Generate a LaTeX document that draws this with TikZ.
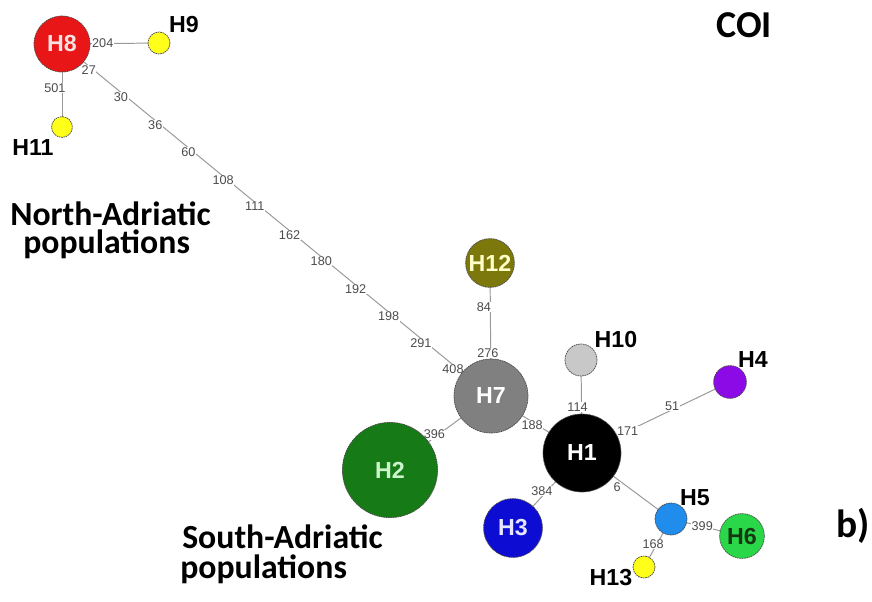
\documentclass[tikz,border=0pt]{standalone}
\usepackage{fontspec}
\setmainfont{Liberation Sans}
\newfontfamily\calib{Carlito}
\usetikzlibrary{backgrounds}

\definecolor{hred}{RGB}{232,22,22}
\definecolor{hyellow}{RGB}{255,255,25}
\definecolor{holive}{RGB}{125,120,12}
\definecolor{hgray}{RGB}{128,128,128}
\definecolor{hlight}{RGB}{200,200,200}
\definecolor{hpurple}{RGB}{140,10,230}
\definecolor{hgreen}{RGB}{22,122,22}
\definecolor{hblue}{RGB}{12,12,210}
\definecolor{hsky}{RGB}{32,140,235}
\definecolor{hlime}{RGB}{42,215,72}

\tikzset{
  hap/.style={circle, draw=black!70, line width=0.5pt, dash pattern=on 1.2pt off 0.5pt,
    inner sep=0pt, font=\fontsize{16.5}{18}\selectfont\bfseries, text=white},
  hname/.style={inner sep=0pt, font=\fontsize{16.5}{18}\selectfont\bfseries},
  link/.style={draw=black!40, line width=0.7pt},
  elab/.style={fill=white, inner sep=0.4pt, font=\fontsize{9}{10}\selectfont, text=black!70},
  elabs/.style={elab, xshift=-1.4pt, yshift=-2pt},
  bigtxt/.style={anchor=base west, inner sep=0pt, font=\calib\bfseries\fontsize{24}{26}\selectfont}
}

\begin{document}
\begin{tikzpicture}[x=0.025cm, y=-0.025cm]
			%%%%% START %%%%%
			\useasboundingbox (0, 0) rectangle (872, 601);
			
			% haplotypes
			\node[hap, fill=hred, minimum size=1.40cm, text={rgb,255:red,245;green,225;blue,225}] (H8) at (62, 44) {H8};
			\node[hap, fill=hyellow, minimum size=0.55cm] (H9) at (159, 43) {};
			\node[hap, fill=hyellow, minimum size=0.52cm] (H11) at (62, 127) {};
			\node[hap, fill=holive, minimum size=1.22cm, text={rgb,255:red,255;green,255;blue,200}] (H12) at (490, 263) {H12};
			\node[hap, fill=hgray, minimum size=1.85cm] (H7) at (491, 396) {H7};
			\node[hap, fill=hlight, minimum size=0.80cm] (H10) at (581, 360) {};
			\node[hap, fill=black, minimum size=1.95cm] (H1) at (582, 453) {H1};
			\node[hap, fill=hpurple, minimum size=0.82cm] (H4) at (730, 382) {};
			\node[hap, fill=hgreen, minimum size=2.38cm, text={rgb,255:red,205;green,245;blue,205}] (H2) at (390, 470) {H2};
			\node[hap, fill=hblue, minimum size=1.47cm, text={rgb,255:red,230;green,230;blue,255}] (H3) at (513, 528) {H3};
			\node[hap, fill=hsky, minimum size=0.80cm] (H5) at (671, 519) {};
			\node[hap, fill=hlime, minimum size=1.12cm, text={rgb,255:red,20;green,55;blue,20}] (H6) at (742, 536) {H6};
			\node[hap, fill=hyellow, minimum size=0.55cm] (H13) at (644, 567) {};
			
			% names beside the small circles
			\node[hname] (lH9) at (184, 25) {H9};
			\node[hname] (lH11) at (33, 148) {H11};
			\node[hname] (lH10) at (616, 340) {H10};
			\node[hname] (lH4) at (753, 360) {H4};
			\node[hname] (lH5) at (695, 498) {H5};
			\node[hname] (lH13) at (611, 578) {H13};
			
			% mutation steps
			\begin{scope}[on background layer]
				\draw[link] (H8.center) -- (H9.center) node[elab, pos=.42] {204};
				\draw[link] (H8.center) -- (H11.center) node[elab, pos=.53, xshift=-5pt] {501};
				\draw[link] (H8.center) -- (H7.center)
					node[elabs, pos=.067] {27}
					node[elabs, pos=.142] {30}
					node[elabs, pos=.222] {36}
					node[elabs, pos=.299] {60}
					node[elabs, pos=.380] {108}
					node[elabs, pos=.454] {111}
					node[elabs, pos=.535] {162}
					node[elabs, pos=.609] {180}
					node[elabs, pos=.689] {192}
					node[elabs, pos=.766] {198}
					node[elabs, pos=.841] {291}
					node[elabs, pos=.916] {408};
				\draw[link] (H12.center) -- (H7.center)
					node[elab, pos=.33, xshift=-4.6pt] {84}
					node[elab, pos=.677, xshift=-2pt] {276};
				\draw[link] (H7.center) -- (H2.center) node[elab, pos=.56, yshift=2pt] {396};
				\draw[link] (H7.center) -- (H1.center) node[elab, pos=.467, xshift=-1pt, yshift=-1.7pt] {188};
				\draw[link] (H10.center) -- (H1.center) node[elab, pos=.505, xshift=-2.8pt] {114};
				\draw[link] (H1.center) -- (H4.center)
					node[elab, pos=.308] {171}
					node[elab, pos=.618, xshift=-1pt, yshift=2pt] {51};
				\draw[link] (H1.center) -- (H3.center) node[elab, pos=.54, xshift=-2pt, yshift=1.8pt] {384};
				\draw[link] (H1.center) -- (H5.center) node[elab, pos=.437, xshift=-2.7pt, yshift=-3.7pt] {6};
				\draw[link] (H5.center) -- (H6.center) node[elab, pos=.44] {399};
				\draw[link] (H5.center) -- (H13.center) node[elab, pos=.556, xshift=-2pt, yshift=1.2pt] {168};
			\end{scope}
			
			% captions
			\node[bigtxt] (north) at (10, 225) {North-Adriatic};
			\node[bigtxt] (northpop) at (23, 253) {populations};
			\node[bigtxt] (south) at (182, 548) {South-Adriatic};
			\node[bigtxt] (southpop) at (180, 578) {populations};
			\node[bigtxt, font=\calib\bfseries\fontsize{27}{30}\selectfont] (coi) at (716, 37) {COI};
			\node[bigtxt, font=\calib\bfseries\fontsize{28}{30}\selectfont] (panel) at (836, 537) {b)};
			%%%%% END %%%%%
\end{tikzpicture}
\end{document}
